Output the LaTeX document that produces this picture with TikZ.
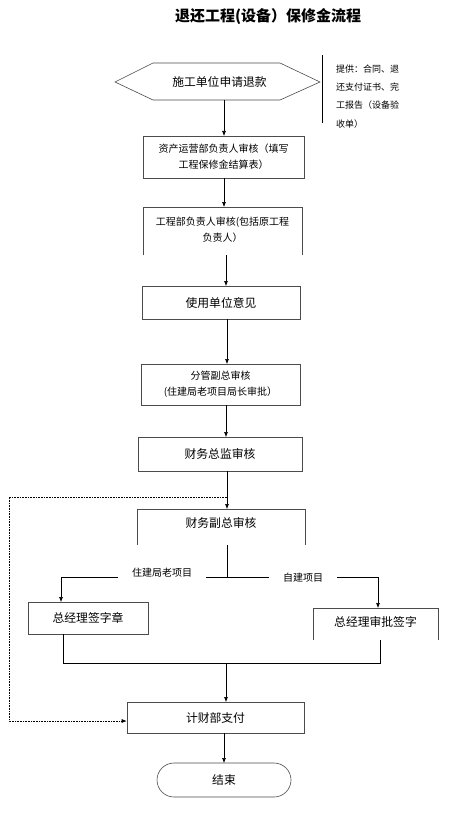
\documentclass[tikz,border=0pt]{standalone}
\usepackage{fontspec}
\setmainfont{Noto Sans CJK SC}
\usetikzlibrary{arrows.meta,calc,shapes.misc}
\begin{document}
\begin{tikzpicture}[x=1pt,y=-1pt,
  boxline/.style={draw=black!70,line width=0.6pt},
  stepbox/.style={boxline,rectangle,inner sep=0pt,align=center,font=\fontsize{10}{16}\selectfont},
  bigtext/.style={font=\fontsize{11.8}{14}\selectfont},
  openbox/.style={rectangle,inner sep=0pt,align=center,font=\fontsize{10}{16}\selectfont},
  conn/.style={draw=black,line width=0.6pt},
  arr/.style={conn,-{Latex[length=5pt,width=4pt]}},
  loopline/.style={draw=black,line width=0.6pt,densely dotted},
  lbl/.style={fill=white,inner xsep=14pt,inner ysep=2pt,font=\fontsize{10}{12}\selectfont}]
\useasboundingbox (0,0) rectangle (457,813);
\fill[white] (0,0) rectangle (457,813);

% title
\node[font=\fontsize{15}{18}\selectfont\bfseries] (title) at (268,17) {退还工程(设备）保修金流程};

% hexagon start
\draw[boxline] (115,82) -- (153,63) -- (280,63) -- (320,82) -- (280,100) -- (153,100) -- cycle;
\node[inner sep=0pt,minimum width=205pt,minimum height=37pt,bigtext] (hex) at (219.5,81.5) {施工单位申请退款};

% side note
\draw[conn] (322,55) coordinate (noteA) -- (322,123) coordinate (noteB);
\node[anchor=north west,inner sep=0pt,align=left,font=\fontsize{9}{18.3}\selectfont] (note) at (336,64.5)
  {提供：合同、退\\还支付证书、完\\工报告（设备验\\收单）};

% boxes
\node[stepbox,minimum width=161pt,minimum height=42pt] (b1) at (223.5,157) {资产运营部负责人审核（填写\\工程保修金结算表）};
\node[openbox,minimum width=159pt,minimum height=48pt,anchor=north] (b2) at (222.5,207) {};
\node[inner sep=0pt,align=center,font=\fontsize{10}{16}\selectfont] (b2t) at (222.5,230) {工程部负责人审核(包括原工程\\负责人）};
\draw[boxline] (b2.south west) -- (b2.north west) -- (b2.north east) -- (b2.south east);
\node[stepbox,bigtext,minimum width=158pt,minimum height=33pt] (b3) at (221,302.5) {使用单位意见};
\node[stepbox,minimum width=159pt,minimum height=41pt] (b4) at (220.5,384.5) {分管副总审核\\(住建局老项目局长审批）};
\node[stepbox,bigtext,minimum width=164pt,minimum height=34pt] (b5) at (220,454) {财务总监审核};
\node[openbox,minimum width=168pt,minimum height=36pt] (b6) at (221,527) {};
\node[inner sep=0pt,bigtext] (b6t) at (221,523) {财务副总审核};
\draw[boxline] (b6.south west) -- (b6.north west) -- (b6.north east) -- (b6.south east);
\node[stepbox,bigtext,minimum width=120pt,minimum height=32pt] (b7) at (88,618) {总经理签字章};
\node[openbox,minimum width=125pt,minimum height=32pt] (b8) at (375.5,624) {};
\node[inner sep=0pt,bigtext] (b8t) at (375.5,622) {总经理审批签字};
\draw[boxline] (b8.south west) -- (b8.north west) -- (b8.north east) -- (b8.south east);
\node[stepbox,bigtext,minimum width=177pt,minimum height=31pt] (b9) at (215.5,717.5) {计财部支付};
\node[boxline,rounded rectangle,inner sep=0pt,minimum width=134pt,minimum height=34pt,bigtext] (end) at (224,780) {结束};

% spine arrows
\draw[arr] (224,100) -- (224,136);
\draw[arr] (224,178) -- (224,207);
\draw[arr] (226,255) -- (226,286);
\draw[arr] (227,319) -- (227,364);
\draw[arr] (226,405) -- (226,437);
\draw[arr] (227,471) coordinate (s5) -- (227,509);
\draw[conn] (227,545) -- (227,577) coordinate (split);

% feedback loop
\coordinate (loopA) at (227,497);
\draw[loopline,-{Latex[length=5pt,width=4pt]}] (loopA) -- (9,497) -- (9,721) -- (b9.west |- 0,721);

% branches
\coordinate (bl) at (61,577);
\coordinate (br) at (378,577);
\draw[conn] (bl) -- (br);
\draw[arr] (bl) -- (61,602);
\draw[arr] (br) -- (378,608);
\node[lbl] (lblL) at (162,573) {住建局老项目};
\node[lbl] (lblR) at (303,578) {自建项目};

% merge
\coordinate (mL) at (63,663);
\coordinate (mR) at (380,663);
\draw[conn] (63,634) -- (mL) -- (mR) -- (380,640);
\draw[arr] (226,663) coordinate (mC) -- (226,702);
\draw[arr] (224,733) -- (224,763);
\end{tikzpicture}
\end{document}
